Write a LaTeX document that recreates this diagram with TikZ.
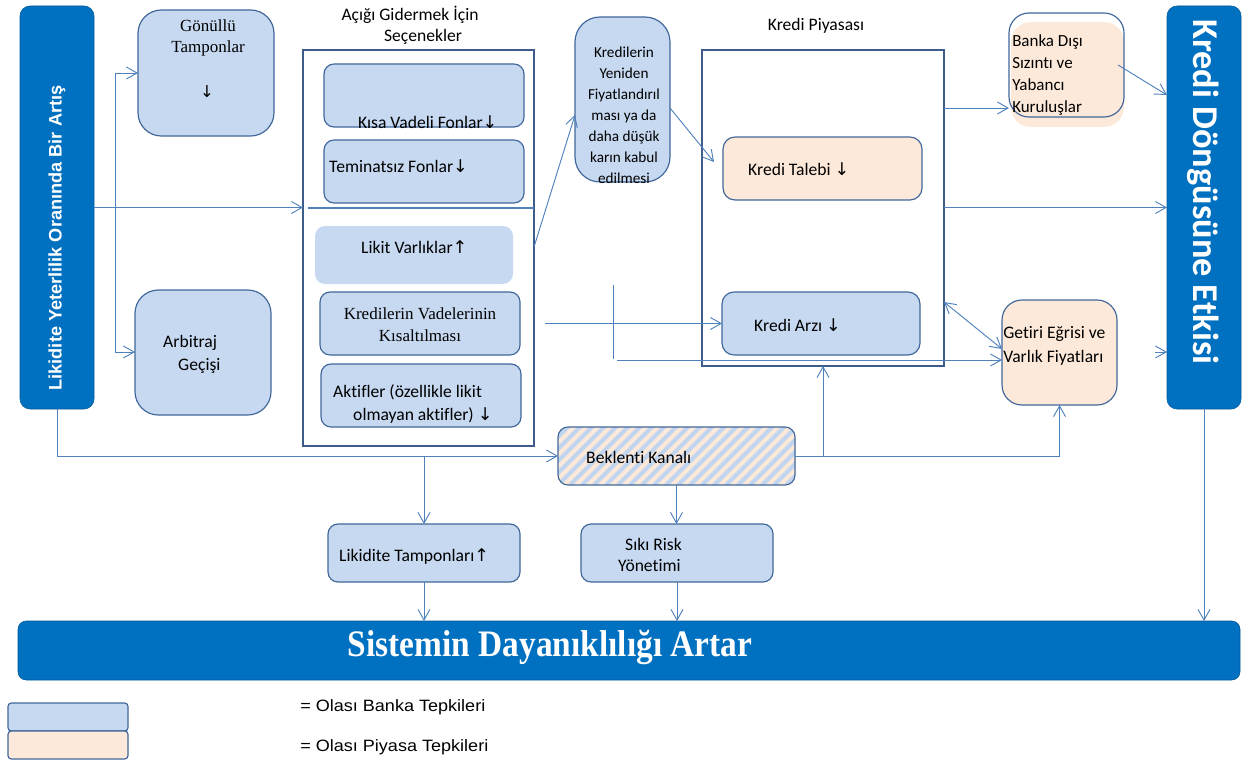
\documentclass[tikz,border=0pt]{standalone}
\usepackage{fontspec}
\setmainfont{Carlito}[Ligatures={TeX,NoCommon}]
\newfontfamily\tnr{Liberation Serif}
\newfontfamily\ars{Liberation Sans}
\newfontfamily\djv{DejaVu Sans}
\usetikzlibrary{arrows.meta,calc}
\newdimen\PX \PX=0.03cm
\definecolor{dkblue}{HTML}{0070C0}
\definecolor{ltblue}{HTML}{C6D9F1}
\definecolor{peach}{HTML}{FDE9D9}
\definecolor{bord}{HTML}{41679A}
\definecolor{frm}{HTML}{3E5C8A}
\definecolor{lnc}{HTML}{4F81BD}
\definecolor{strp}{HTML}{C2D5EE}
\newcommand\arrdn{{\djv\fontsize{15}{18}\selectfont ↓}}
\newcommand\arrup{{\djv\fontsize{15}{18}\selectfont ↑}}
\newcommand\bx[6]{\node[#2, minimum width={(#5-#3)*\PX}, minimum height={(#6-#4)*\PX}] (#1) at ({(#3+#5)/2},{(#4+#6)/2}) {};}
\tikzset{
  >={Straight Barb[length=3.2mm,width=3.6mm]},
  base/.style={inner sep=0pt, outer sep=0pt},
  bluebox/.style={base, draw=bord, fill=ltblue, line width=1pt, rounded corners=3mm},
  peachbox/.style={base, draw=bord, fill=peach, line width=1pt, rounded corners=3mm},
  hatch/.style={base, draw=bord, fill=peach, line width=1pt, rounded corners=3mm,
     path picture={\foreach \i in {-8,...,22}{\draw[strp, line width=3.6pt] ([xshift={\i*12*\PX}]path picture bounding box.south west) -- ++(2.4cm,2.4cm);}}},
  bar/.style={base, fill=dkblue, draw=dkblue!80!black, line width=0.5pt, rounded corners=3mm},
  framebox/.style={base, draw=frm, line width=2pt},
  txt/.style={inner sep=0pt, font=\fontsize{15}{18}\selectfont, text=black},
  conn/.style={draw=lnc, line width=0.8pt, ->},
  conn2/.style={draw=lnc, line width=0.8pt, <->},
  plain/.style={draw=lnc, line width=0.8pt},
}
\begin{document}
\begin{tikzpicture}[x=0.03cm, y=-0.03cm]
\useasboundingbox (0,0) rectangle (1245,761);

% bars
\bx{lb}{bar}{20}{6}{94}{409}
\bx{rb}{bar}{1167}{6}{1241}{409}
\bx{sb}{bar, rounded corners=2.5mm}{18}{621}{1240}{680}

% left boxes
\bx{gt}{bluebox, rounded corners=7mm}{138}{10}{274}{136}
\bx{ag}{bluebox, rounded corners=7mm}{135}{290}{271}{415}

% options frame
\bx{opt}{framebox}{303}{50}{534}{446}
\bx{kv}{bluebox}{324}{64}{524}{127}
\bx{tf}{bluebox}{324}{140}{524}{203}
\bx{lv}{base, fill=ltblue, rounded corners=3mm}{315}{226}{513}{284}
\bx{kvk}{bluebox}{320}{292}{520}{355}
\bx{ak}{bluebox}{321}{364}{521}{427}

% repricing
\bx{ky}{bluebox, rounded corners=7.5mm}{575}{17}{670}{182}

% credit market
\bx{kp}{framebox}{702}{50}{944}{366}
\bx{kt}{peachbox, rounded corners=3.6mm}{723}{137}{922}{200}
\bx{ka}{bluebox, rounded corners=3.6mm}{722}{292}{920}{355}

% right boxes
\bx{bdf}{base, fill=peach, rounded corners=6mm}{1011}{22}{1124}{127}
\bx{bd}{base, draw=bord, line width=1pt, rounded corners=6mm}{1009}{13}{1124}{117}
\bx{ge}{peachbox, rounded corners=6mm}{1002}{300}{1117}{405}

% bottom boxes
\bx{bk}{hatch}{558}{427}{795}{485}
\bx{lt}{bluebox}{328}{524}{520}{582}
\bx{sr}{bluebox}{581}{524}{773}{582}

% legend
\bx{leg1}{bluebox, rounded corners=1mm}{8}{703}{128}{731}
\bx{leg2}{peachbox, rounded corners=1mm}{8}{731}{128}{759}

% ---- texts
\node[txt, rotate=90, text=white, font=\ars\bfseries\fontsize{15.5}{18}\selectfont] (lbt) at (57,238) {Likidite Yeterlilik Oranında Bir Artış};
\node[txt, rotate=-90, text=white, font=\bfseries\fontsize{31}{36}\selectfont] (rbt) at (1203,192) {Kredi Döngüsüne Etkisi};
\node[txt, text=white, font=\tnr\bfseries\fontsize{28.5}{34}\selectfont, yscale=1.12] (sbt) at (550,647) {Sistemin Dayanıklılığı Artar};

\node[txt, font=\tnr\fontsize{14.5}{17}\selectfont] (gt1) at (208,26) {Gönüllü};
\node[txt, font=\tnr\fontsize{14.5}{17}\selectfont] (gt2) at (208,48) {Tamponlar};
\node[txt, font=\djv\fontsize{14}{17}\selectfont] (gt3) at (207,92) {↓};
\node[txt, anchor=west] (ag1) at (163,343) {Arbitraj};
\node[txt, anchor=west] (ag2) at (178,366) {Geçişi};

\node[txt] (ot1) at (410,15) {Açığı Gidermek İçin};
\node[txt] (ot2) at (423,37) {Seçenekler};
\node[txt, anchor=west] (kvt) at (358,122) {Kısa Vadeli Fonlar\arrdn};
\node[txt, anchor=west] (tft) at (329,166) {Teminatsız Fonlar\arrdn};
\node[txt, anchor=west] (lvt) at (361,247) {Likit Varlıklar\arrup};
\node[txt, font=\tnr\fontsize{14.5}{18.8}\selectfont, align=center] (kvkt) at (420,325) {Kredilerin Vadelerinin\\Kısaltılması};
\node[txt, anchor=west] (ak1) at (333,392) {Aktifler (özellikle likit};
\node[txt, anchor=west] (ak2) at (353,415) {olmayan aktifler) \arrdn};

\node[txt, font=\fontsize{13}{17.9}\selectfont, align=center] (kyt) at (624,115) {Kredilerin\\Yeniden\\Fiyatlandırıl\\ması ya da\\daha düşük\\karın kabul\\edilmesi};

\node[txt] (kpt) at (816,26) {Kredi Piyasası};
\node[txt, anchor=west] (ktt) at (748,169) {Kredi Talebi \arrdn};
\node[txt, anchor=west] (kat) at (754,325) {Kredi Arzı \arrdn};

\node[txt, font=\fontsize{14.5}{19}\selectfont, align=left, anchor=west] (bdt) at (1012,75) {Banka Dışı\\Sızıntı ve\\Yabancı\\Kuruluşlar};
\node[txt, font=\fontsize{15}{20.5}\selectfont, align=left, anchor=west] (get) at (1003,346) {Getiri Eğrisi ve\\Varlık Fiyatları};

\node[txt, anchor=west] (bkt) at (586,457) {Beklenti Kanalı};
\node[txt, anchor=west] (ltt) at (339,556) {Likidite Tamponları\arrup};
\node[txt, anchor=west] (sr1) at (625,544) {Sıkı Risk};
\node[txt, anchor=west] (sr2) at (618,566) {Yönetimi};

\node[txt, anchor=west, font=\ars\fontsize{14}{16}\selectfont, xscale=1.1] (lg1) at (300,707) {= Olası Banka Tepkileri};
\node[txt, anchor=west, font=\ars\fontsize{14}{16}\selectfont, xscale=1.1] (lg2) at (300,747) {= Olası Piyasa Tepkileri};

% ---- connectors
\draw[conn] (lb.east) -- (lb.east -| opt.west);
\coordinate (j1) at (115,73);
\coordinate (j2) at (115,352);
\draw[plain] (j1) -- (j2);
\draw[conn] (j1) -- (j1 -| gt.west);
\draw[conn] (j2) -- (j2 -| ag.west);
\coordinate (d1) at (308,208);
\draw[plain, line width=1.4pt] (d1) -- (d1 -| opt.east);
\draw[conn] (opt.east |- 0,247) -- (ky.west |- 0,115);
\coordinate (kt1) at (714,162);
\draw[conn] (ky.east |- 0,108) -- (kt1);
\coordinate (h1) at (545,323.5);
\draw[conn] (h1) -- (ka.west);
\coordinate (v1) at (613,285);
\coordinate (v2) at (613,359);
\draw[plain] (v1) -- (v2);
\coordinate (h2) at (617,360);
\draw[conn] (h2) -- (h2 -| ge.west);
\draw[conn] (kp.east |- 0,108) -- (bd.west |- 0,108);
\draw[conn] (kp.east |- rb.west) -- (rb.west);
\draw[conn2] (kp.east |- 0,302) -- (ge.west |- 0,349);
\draw[conn] ($(bd.east |- 0,65)+(-6,0)$) -- (rb.west |- 0,95);
\coordinate (g1) at (1155,352);
\draw[conn] (g1) -- (g1 -| rb.west);
\draw[conn] (rb.south) -- (rb.south |- sb.north);
\draw[conn] (lb.south) |- (bk.west);
\draw[conn] (lt.north |- bk.west) -- (lt.north);
\draw[conn] (bk.east) -| (ge.south);
\draw[conn] (kp.south |- bk.east) -- (kp.south);
\draw[conn] (bk.south) -- (bk.south |- sr.north);
\draw[conn] (lt.south) -- (lt.south |- sb.north);
\draw[conn] (sr.south) -- (sr.south |- sb.north);
\end{tikzpicture}
\end{document}
